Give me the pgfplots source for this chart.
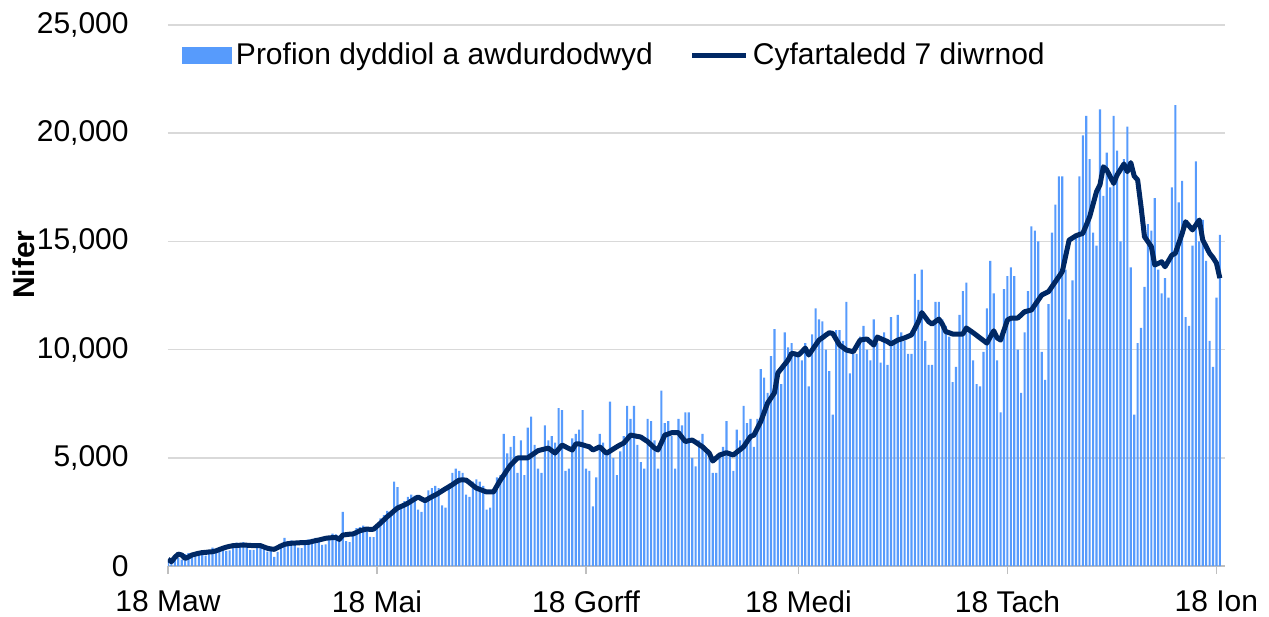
\documentclass[border=0pt]{standalone}
\usepackage{pgfplots}
\pgfplotsset{compat=1.18}
\usepackage{pgfplotstable}
\usepackage{fontspec}
\setmainfont{Liberation Sans}
\definecolor{barblue}{RGB}{87,155,252}
\definecolor{navy}{RGB}{0,40,100}
\definecolor{gridgray}{RGB}{217,217,217}
\definecolor{axisgray}{RGB}{191,191,191}
% day index 0 = 18 Mar 2020; b = daily tests authorised, a = 7 day average
\pgfplotstableread[row sep=\\]{
b a\\
300 310\\ 250 200\\ 420 400\\ 380 550\\ 300 510\\ 550 350\\ 600 420\\
560 510\\ 620 550\\ 620 590\\ 500 620\\ 480 630\\ 660 650\\ 850 660\\
780 700\\ 860 760\\ 870 820\\ 700 870\\ 720 910\\ 980 940\\ 1080 950\\
1060 960\\ 1100 970\\ 1000 960\\ 750 950\\ 740 940\\ 960 940\\ 1050 940\\
950 880\\ 660 820\\ 840 790\\ 420 770\\ 650 850\\ 1000 930\\ 1300 1000\\
1150 1030\\ 1180 1050\\ 1100 1060\\ 850 1070\\ 830 1080\\ 1120 1085\\ 1230 1090\\
1250 1130\\ 1300 1170\\ 1260 1200\\ 980 1240\\ 1000 1280\\ 1330 1300\\ 1500 1310\\
1460 1320\\ 1400 1230\\ 2500 1430\\ 1150 1450\\ 1100 1470\\ 1520 1480\\ 1750 1550\\
1800 1630\\ 1870 1670\\ 1800 1710\\ 1350 1690\\ 1330 1700\\ 1900 1840\\ 2200 1980\\
2350 2130\\ 2550 2280\\ 2500 2410\\ 3900 2550\\ 3650 2680\\ 2800 2750\\ 3000 2820\\
3200 2900\\ 3300 3000\\ 3250 3100\\ 2600 3190\\ 2500 3100\\ 3100 3020\\ 3500 3110\\
3600 3200\\ 3700 3280\\ 3600 3370\\ 2800 3470\\ 2700 3570\\ 3800 3660\\ 4300 3760\\
4500 3870\\ 4400 3970\\ 4300 3980\\ 3300 3970\\ 3200 3850\\ 3900 3720\\ 4000 3600\\
3900 3540\\ 3700 3480\\ 2600 3420\\ 2700 3420\\ 3500 3420\\ 4100 3700\\ 4200 3970\\
6100 4200\\ 5200 4440\\ 5500 4670\\ 6000 4830\\ 4300 4990\\ 5800 5000\\ 4200 5000\\
6400 5000\\ 6900 5110\\ 5600 5220\\ 4500 5330\\ 4300 5370\\ 6500 5410\\ 5800 5450\\
6000 5330\\ 5700 5220\\ 7300 5400\\ 7200 5590\\ 4400 5510\\ 4500 5430\\ 5900 5360\\
6100 5640\\ 6300 5640\\ 7200 5600\\ 4500 5550\\ 4400 5510\\ 2750 5360\\ 4100 5430\\
6100 5510\\ 5700 5360\\ 5300 5210\\ 7600 5310\\ 5000 5410\\ 4200 5510\\ 5300 5600\\
6000 5680\\ 7400 5860\\ 6800 6050\\ 7400 6020\\ 5600 5990\\ 4800 5960\\ 4500 5850\\
6800 5750\\ 6700 5600\\ 5800 5450\\ 4500 5360\\ 8100 5700\\ 6600 6050\\ 6700 6100\\
6000 6160\\ 4500 6160\\ 6800 6160\\ 6500 5950\\ 7100 5750\\ 7100 5790\\ 5000 5820\\
4600 5720\\ 5800 5610\\ 6100 5510\\ 5200 5360\\ 5000 5210\\ 4300 4850\\ 4300 4990\\
5200 5130\\ 5500 5180\\ 6700 5240\\ 5300 5180\\ 4400 5130\\ 6300 5260\\ 5800 5380\\
7400 5510\\ 6600 5750\\ 6800 5980\\ 5500 6050\\ 6800 6360\\ 9100 6670\\ 8700 7100\\
8000 7530\\ 9700 7770\\ 10950 8000\\ 9000 8920\\ 8400 9120\\ 10800 9320\\ 10100 9520\\
10300 9830\\ 9900 9800\\ 9900 9750\\ 9500 9900\\ 10300 10070\\ 8300 9750\\ 10700 9980\\
11900 10210\\ 11400 10440\\ 11300 10550\\ 10000 10670\\ 9000 10780\\ 7000 10750\\ 10900 10480\\
10900 10210\\ 10400 10100\\ 12200 9980\\ 8900 9940\\ 9800 9900\\ 9800 10170\\ 10600 10440\\
11100 10470\\ 10000 10490\\ 9500 10350\\ 11400 10210\\ 10300 10580\\ 9400 10510\\ 10800 10440\\
9300 10370\\ 11500 10260\\ 10400 10350\\ 11600 10440\\ 10800 10490\\ 10400 10540\\ 9800 10610\\
9800 10680\\ 13500 10980\\ 12300 11290\\ 13700 11710\\ 10400 11500\\ 9300 11290\\ 9300 11180\\
12200 11300\\ 12200 11410\\ 11400 11180\\ 11100 10830\\ 10600 10780\\ 8500 10720\\ 9200 10720\\
11600 10720\\ 12700 10720\\ 13100 11000\\ 10900 10890\\ 9500 10780\\ 8400 10660\\ 8300 10540\\
9900 10420\\ 11900 10300\\ 14100 10590\\ 12600 10870\\ 9500 10540\\ 7100 10440\\ 12800 10900\\
13400 11370\\ 13800 11450\\ 13400 11460\\ 10000 11460\\ 8000 11600\\ 10800 11750\\ 12700 11790\\
15700 11830\\ 15500 12060\\ 15000 12290\\ 9900 12520\\ 8600 12600\\ 12100 12680\\ 15400 12910\\
16700 13140\\ 18000 13370\\ 18000 13600\\ 13700 14330\\ 11400 15060\\ 13200 15160\\ 15200 15260\\
18000 15320\\ 19900 15370\\ 20800 15750\\ 18800 16140\\ 15400 16720\\ 14800 17300\\ 21100 17610\\
17100 18450\\ 19100 18300\\ 17500 17990\\ 20800 17680\\ 19200 18070\\ 15000 18320\\ 18800 18580\\
20300 18220\\ 13800 18640\\ 7000 18020\\ 10300 17840\\ 11000 16600\\ 12900 15220\\ 15800 14990\\
15500 14760\\ 17000 13910\\ 13700 13980\\ 12600 14060\\ 13300 13830\\ 12400 14100\\ 17500 14370\\
21300 14450\\ 16800 14910\\ 17800 15370\\ 11500 15910\\ 11100 15720\\ 14800 15530\\ 18700 15760\\
15000 15990\\ 16000 15070\\ 14100 14760\\ 10400 14450\\ 9200 14250\\ 12400 14000\\ 15300 13300\\
}\testdata
\begin{document}
\begin{tikzpicture}
\useasboundingbox (-84pt,-25pt) rectangle (550.5pt,283pt);
\begin{axis}[
  scale only axis, width=528.5pt, height=270.5pt,
  xmin=0, xmax=308.5, ymin=0, ymax=25000,
  axis x line*=bottom, axis y line*=left,
  y axis line style={draw=none},
  x axis line style={axisgray, line width=0.75pt},
  ytick={0,5000,10000,15000,20000,25000},
  scaled y ticks=false,
  /pgf/number format/.cd, fixed, 1000 sep={,}, assume math mode=true, /pgfplots/.cd,
  ymajorgrids, grid style={gridgray, line width=0.75pt},
  ytick style={draw=none},
  xtick={0,61,122,184,245,306},
  xticklabels={18 Maw,18 Mai,18 Gorff,18 Medi,18 Tach,18 Ion},
  xtick style={axisgray, line width=0.75pt},
  tick align=outside, major tick length=4pt,
  tick label style={font=\fontsize{15}{18}\selectfont, text=black},
  xticklabel style={inner sep=0pt, anchor=north, yshift=-8pt},
  yticklabel style={inner sep=0pt, anchor=east, xshift=-15.5pt},
  ylabel={Nifer},
  every axis y label/.style={at={(axis description cs:-0.136,0.557)}, rotate=90, anchor=center, font=\fontsize{15}{18}\selectfont\bfseries},
  legend columns=2,
  legend style={at={(axis description cs:0.01325,0.9445)}, anchor=west, draw=none, fill=none,
    inner sep=0pt, outer sep=0pt, font=\fontsize{15}{18}\selectfont,
    nodes={inner sep=0pt},
    /tikz/every odd column/.append style={column sep=2pt},
    /tikz/every even column/.append style={column sep=18.5pt}},
]
\addplot[ybar, bar width=0.62, fill=barblue, draw=none,
  legend image code/.code={\fill[barblue] (0pt,-4.25pt) rectangle (25pt,4.25pt);}]
  table[x expr=\coordindex, y=b] {\testdata};
\addlegendentry{Profion dyddiol a awdurdodwyd}
\addplot[navy, line width=2.5pt, line join=round, mark=none,
  legend image code/.code={\draw[navy, line width=2.5pt] (0pt,0pt) -- (27pt,0pt);}]
  table[x expr=\coordindex, y=a] {\testdata};
\addlegendentry{Cyfartaledd 7 diwrnod}
\end{axis}
\end{tikzpicture}
\end{document}
